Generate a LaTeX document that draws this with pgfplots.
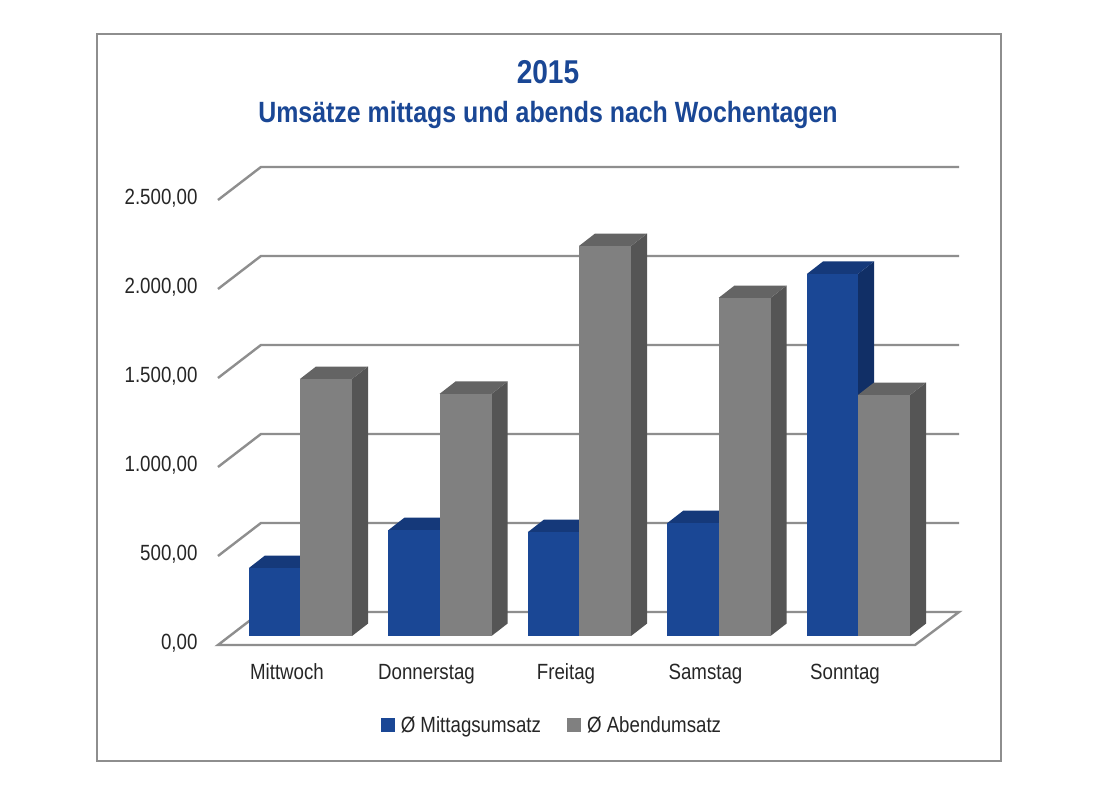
\documentclass[border=0pt]{standalone}
\usepackage{fontspec}
\setmainfont[FakeStretch=0.85]{Liberation Sans}
\usepackage{pgfplots}
\pgfplotsset{compat=1.18}
\definecolor{bluefront}{HTML}{1A4795}
\definecolor{bluetop}{HTML}{15397A}
\definecolor{blueside}{HTML}{112F66}
\definecolor{greyfront}{HTML}{808080}
\definecolor{greytop}{HTML}{646464}
\definecolor{greyside}{HTML}{555555}
\definecolor{gridc}{HTML}{8E8E8E}
\definecolor{textc}{HTML}{262626}
% one 3D column: category, value, left offset, right offset, colour stem
\newcommand\dbar[5]{%
  \pgfmathsetmacro\xa{#1+#3}%
  \pgfmathsetmacro\xb{#1+#4}%
  \pgfmathsetmacro\xc{\xa+0.115}%
  \pgfmathsetmacro\xd{\xb+0.115}%
  \pgfmathsetmacro\vt{#2+70}%
  \addplot[forget plot,draw=none,fill=#5side] coordinates {(\xb,0) (\xd,70) (\xd,\vt) (\xb,#2)} -- cycle;
  \addplot[forget plot,draw=none,fill=#5top] coordinates {(\xa,#2) (\xb,#2) (\xd,\vt) (\xc,\vt)} -- cycle;
  \addplot[forget plot,draw=none,fill=#5front] coordinates {(\xa,0) (\xb,0) (\xb,#2) (\xa,#2)} -- cycle;
}
\begin{document}
\begin{tikzpicture}
\useasboundingbox (-300pt,-158pt) rectangle (798pt,636pt);
\fill[white] (-300pt,-158pt) rectangle (798pt,636pt);
\draw[gridc,line width=2.2pt] (-203pt,-125pt) rectangle (701pt,602pt);
\node[text=bluefront,font=\fontsize{33}{38}\selectfont\bfseries] at (248pt,564pt) {2015};
\node[text=bluefront,font=\fontsize{29.3}{34}\selectfont\bfseries] at (248pt,521pt) {Umsätze mittags und abends nach Wochentagen};
\begin{axis}[
  anchor=origin, at={(0pt,0pt)},
  x=139.5pt, y=0.178pt,
  xmin=-0.588, xmax=4.724, ymin=-51, ymax=2640,
  clip=false,
  axis line style={draw=none},
  major tick length=0pt,
  xtick={0,1,2,3,4},
  xticklabels={Mittwoch,Donnerstag,Freitag,Samstag,Sonntag},
  ytick={0,500,1000,1500,2000,2500},
  yticklabels={{0,00},{500,00},{1.000,00},{1.500,00},{2.000,00},{2.500,00}},
  xtick pos=bottom, ytick pos=left,
  x tick label style={font=\fontsize{22}{26}\selectfont,text=textc,xshift=-13pt,yshift=-15pt,text height=16pt,text depth=5pt},
  y tick label style={font=\fontsize{22}{26}\selectfont,text=textc,yshift=-7pt,xshift=-17pt},
  legend style={at={(axis cs:1.806,-500)},anchor=center,draw=none,fill=none,
    legend columns=2,font=\fontsize{22}{26}\selectfont,text=textc,
    /tikz/every even column/.append style={column sep=24pt},
    /tikz/every odd column/.append style={column sep=5pt}},
  legend cell align=left,
]
% floor and back wall
\addplot[forget plot,draw=gridc,line width=2.4pt,fill=white] coordinates {(-0.588,-50.6) (4.409,-50.6) (4.724,134.8) (-0.28,134.8)} -- cycle;
\addplot[forget plot,gridc,line width=2.4pt] coordinates {(-0.588,449.4) (-0.28,634.8) (4.724,634.8)};
\addplot[forget plot,gridc,line width=2.4pt] coordinates {(-0.588,949.4) (-0.28,1134.8) (4.724,1134.8)};
\addplot[forget plot,gridc,line width=2.4pt] coordinates {(-0.588,1449.4) (-0.28,1634.8) (4.724,1634.8)};
\addplot[forget plot,gridc,line width=2.4pt] coordinates {(-0.588,1949.4) (-0.28,2134.8) (4.724,2134.8)};
\addplot[forget plot,gridc,line width=2.4pt] coordinates {(-0.588,2449.4) (-0.28,2634.8) (4.724,2634.8)};
% columns
\dbar{0}{382}{-0.366}{0}{blue}
\dbar{0}{1444}{0}{0.373}{grey}
\dbar{1}{595}{-0.366}{0}{blue}
\dbar{1}{1360}{0}{0.373}{grey}
\dbar{2}{584}{-0.366}{0}{blue}
\dbar{2}{2191}{0}{0.373}{grey}
\dbar{3}{635}{-0.366}{0}{blue}
\dbar{3}{1899}{0}{0.373}{grey}
\dbar{4}{2034}{-0.366}{0}{blue}
\dbar{4}{1354}{0}{0.373}{grey}
\addlegendimage{only marks,mark=square*,mark size=6.5pt,color=bluefront}
\addlegendentry{Ø Mittagsumsatz}
\addlegendimage{only marks,mark=square*,mark size=6.5pt,color=greyfront}
\addlegendentry{Ø Abendumsatz}
\end{axis}
\end{tikzpicture}
\end{document}
